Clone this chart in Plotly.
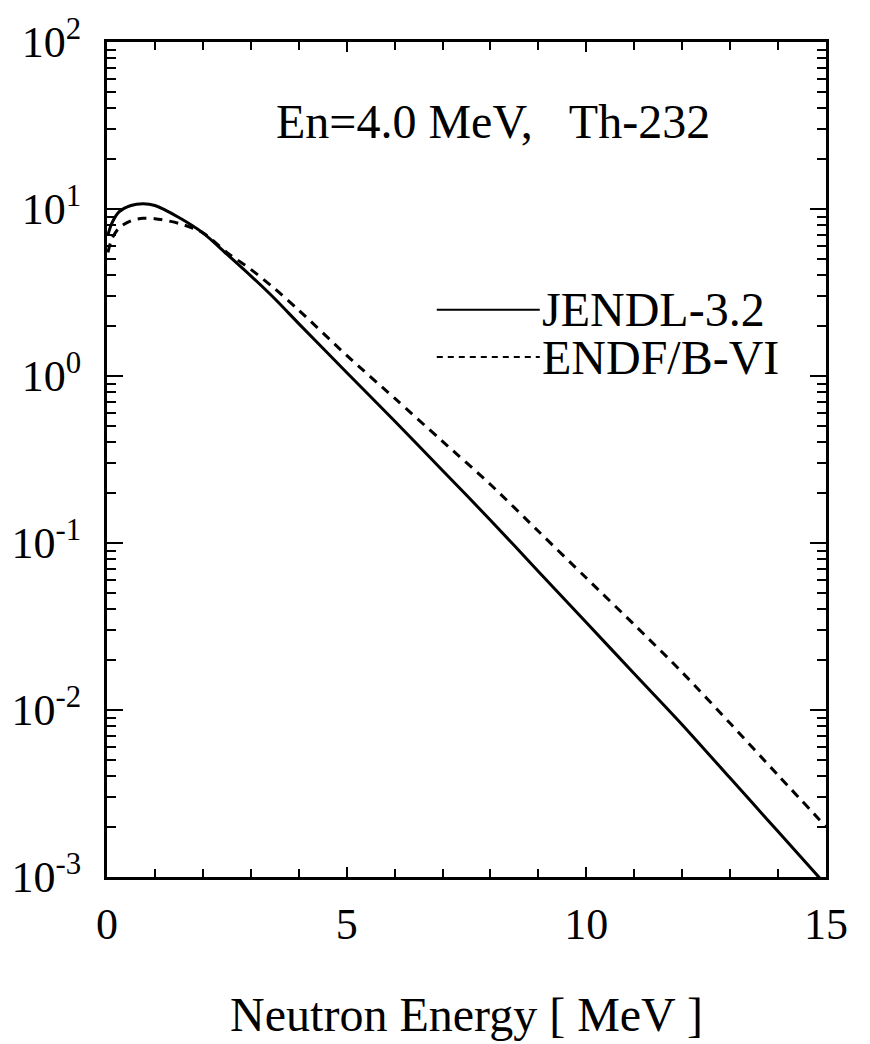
import plotly.graph_objects as go

# Neutron energy grid [MeV]
energy = [0.02, 0.1, 0.25, 0.5, 0.75, 1.0, 1.5, 2.0, 2.5, 3.0, 3.5, 4.0,
          5.0, 6.0, 7.0, 8.0, 9.0, 10.0, 11.0, 12.0, 13.0, 14.0, 15.0]

# Fission neutron spectra for Th-232 at En = 4.0 MeV
jendl_32 = [7.0, 8.2, 9.6, 10.5, 10.75, 10.5, 8.9, 7.2, 5.37, 3.98, 2.9, 2.06,
            1.05, 0.538, 0.272, 0.137, 0.0676, 0.0334, 0.0165, 0.00817,
            0.00391, 0.00187, 0.000895]
endf_b6 = [5.5, 6.6, 7.7, 8.5, 8.8, 8.75, 8.2, 7.2, 5.5, 4.35, 3.33, 2.48,
           1.33, 0.736, 0.406, 0.224, 0.1175, 0.0617, 0.0324, 0.0168,
           0.00832, 0.00407, 0.0020]

y_tick_vals = [1e-3, 1e-2, 1e-1, 1e0, 1e1, 1e2]
y_tick_text = ["10<sup>-3</sup>", "10<sup>-2</sup>", "10<sup>-1</sup>",
               "10<sup>0</sup>", "10<sup>1</sup>", "10<sup>2</sup>"]
y_minor_vals = [m * 10.0 ** d for d in range(-3, 2) for m in range(2, 10)]
x_tick_vals = [0, 5, 10, 15]

FONT = "Liberation Serif"

fig = go.Figure()
fig.add_trace(go.Scatter(x=energy, y=jendl_32, mode="lines", name="JENDL-3.2",
                         line=dict(color="black", width=3, shape="spline",
                                   smoothing=0.8)))
fig.add_trace(go.Scatter(x=energy, y=endf_b6, mode="lines", name="ENDF/B-VI",
                         line=dict(color="black", width=3, shape="spline",
                                   smoothing=0.8, dash="9px,7px")))

fig.update_layout(
    width=870, height=1044,
    margin=dict(l=100, r=44, t=36, b=144),
    paper_bgcolor="white", plot_bgcolor="white",
    showlegend=False,
    font=dict(family=FONT, color="black", size=44),
)

fig.update_xaxes(
    range=[0, 15], showgrid=False, zeroline=False,
    showline=True, linecolor="black", linewidth=3, mirror="ticks",
    ticks="inside", ticklen=10, tickwidth=2, tickcolor="black",
    tickvals=x_tick_vals, tickfont=dict(size=44, family=FONT),
    ticklabelstandoff=6,
    minor=dict(ticks="inside", dtick=1, ticklen=8, tickwidth=2, tickcolor="black"),
    title=dict(text="Neutron Energy [ MeV ]", font=dict(size=48, family=FONT),
               standoff=50),
)
fig.update_yaxes(
    type="log", range=[-3, 2], showgrid=False, zeroline=False,
    showline=True, linecolor="black", linewidth=3, mirror="ticks",
    ticks="inside", ticklen=16, tickwidth=2, tickcolor="black",
    tickvals=y_tick_vals, ticktext=y_tick_text,
    tickfont=dict(size=44, family=FONT), ticklabelstandoff=14,
    minor=dict(ticks="inside", tickvals=y_minor_vals, ticklen=9, tickwidth=2,
               tickcolor="black"),
)

# Reaction label
fig.add_annotation(xref="paper", yref="paper", x=0.537, y=0.905,
                   text="En=4.0 MeV,\u00a0\u00a0\u00a0Th-232", showarrow=False,
                   font=dict(size=48, family=FONT), xanchor="center", yanchor="middle")

# Legend: sample line followed by library name
x0_leg, x1_leg = (433 - 100) / 726, (537 - 100) / 726
legend_rows = [("JENDL-3.2", "solid", (900 - 313) / 864),
               ("ENDF/B-VI", "6px,5px", (900 - 362) / 864)]
for label, dash, yp in legend_rows:
    fig.add_shape(type="line", xref="paper", yref="paper",
                  x0=x0_leg, x1=x1_leg, y0=yp, y1=yp,
                  line=dict(color="black", width=2, dash=dash))
    fig.add_annotation(xref="paper", yref="paper", x=x1_leg, y=yp,
                       text=label, showarrow=False, xanchor="left",
                       yanchor="middle", font=dict(size=48, family=FONT))

fig.write_html("out.html")
